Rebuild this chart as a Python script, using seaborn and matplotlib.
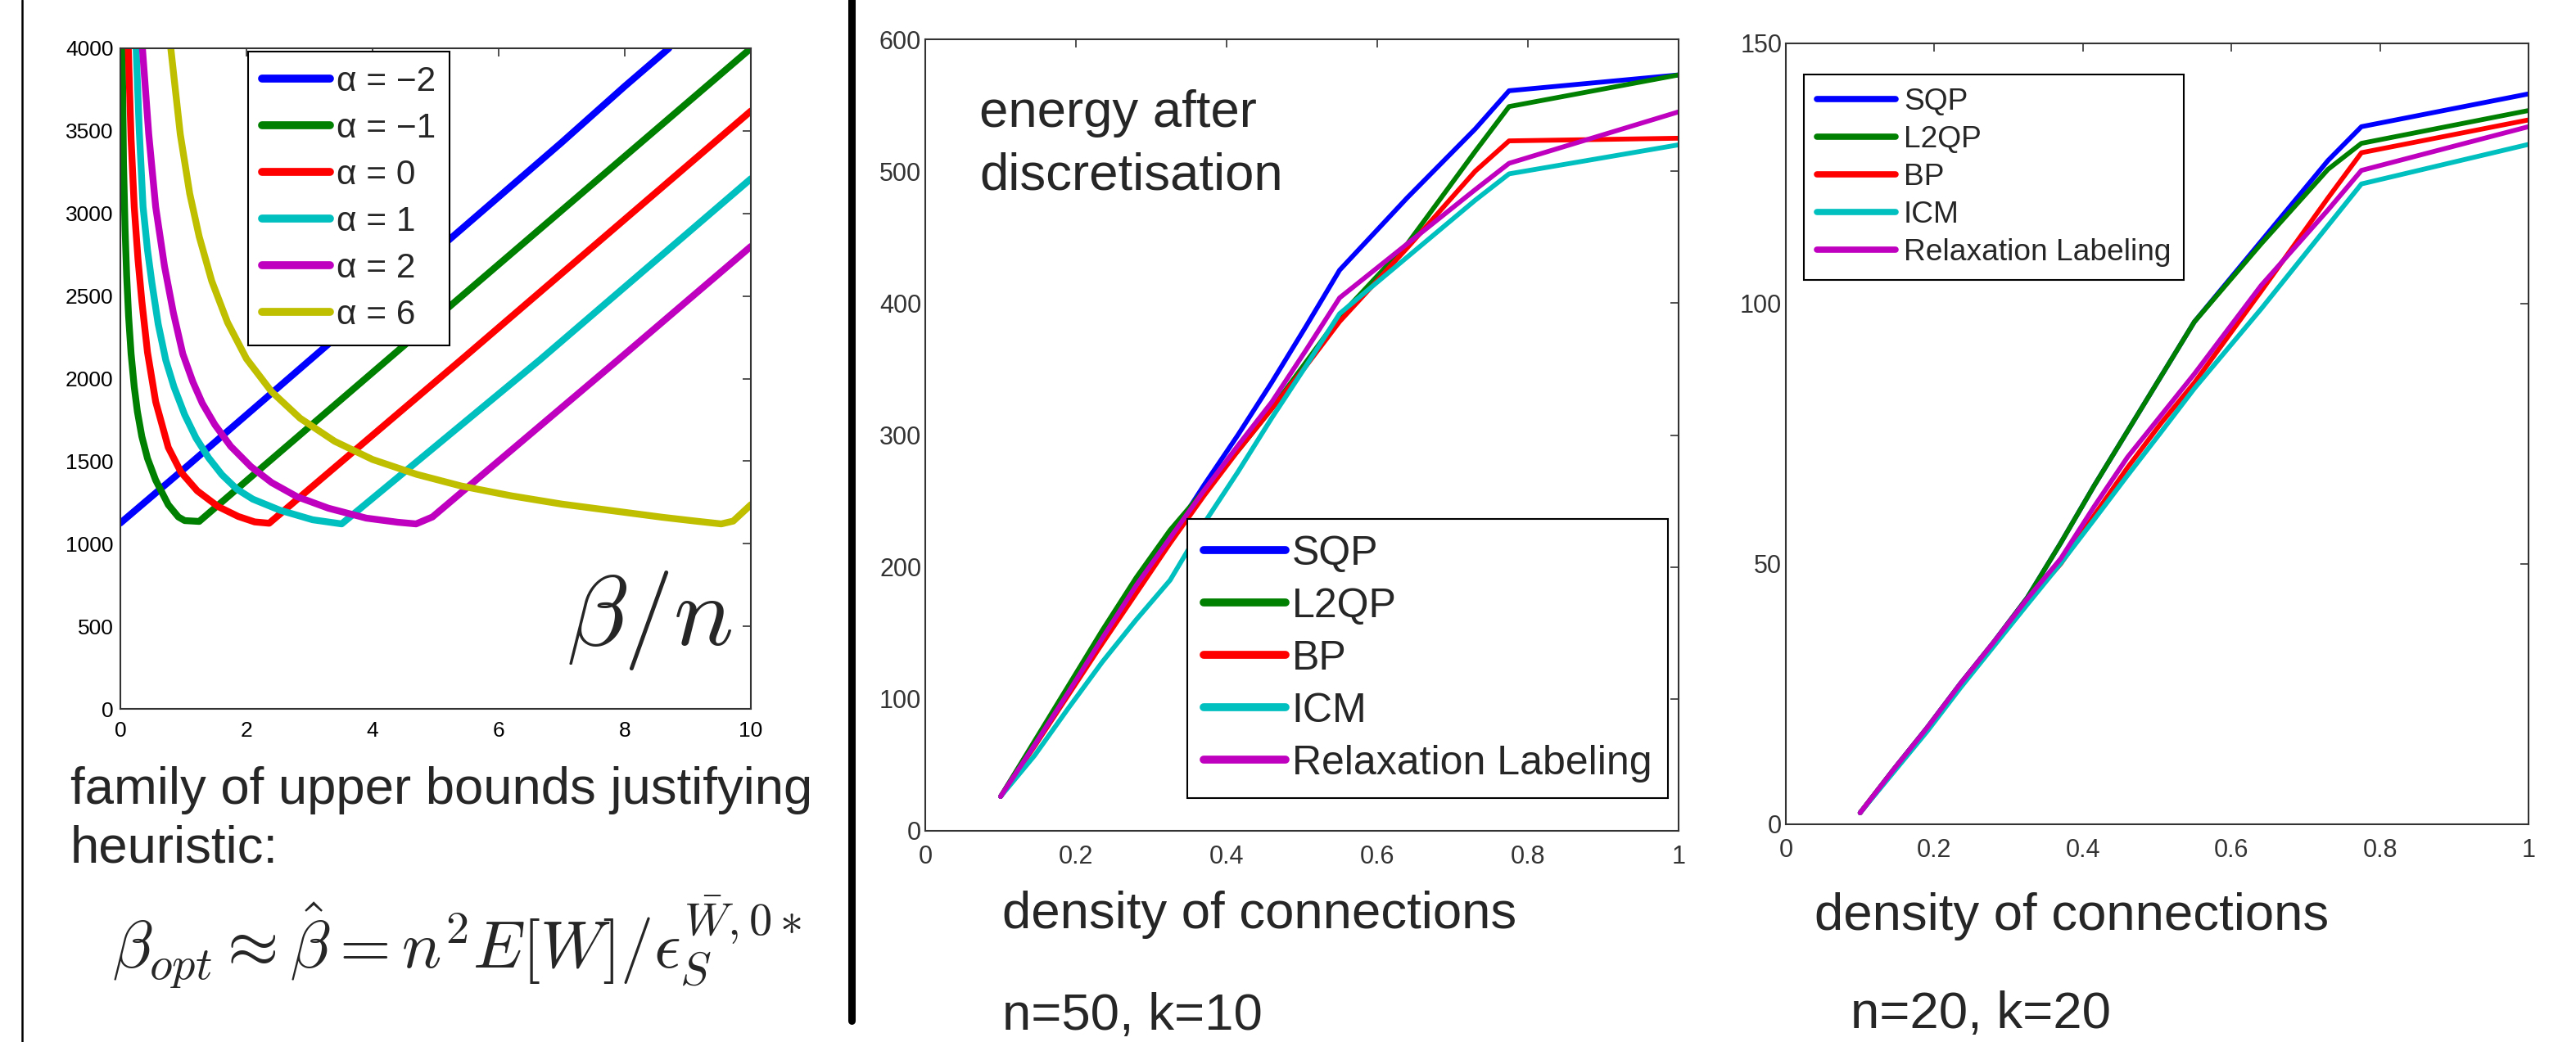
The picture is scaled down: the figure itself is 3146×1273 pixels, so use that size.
import matplotlib
matplotlib.use('Agg')
import pandas as pd
import matplotlib.pyplot as plt
from matplotlib.lines import Line2D
import seaborn as sns

W, H = 3146, 1273

# ---- panel 1: family of upper bounds (beta/n on x) ----
alpha_labels = ['α = −2', 'α = −1', 'α = 0', 'α = 1', 'α = 2', 'α = 6']
alpha_colors = ['#0000ff', '#008000', '#ff0000', '#00bfbf', '#bf00bf', '#bfbf00']

bx_m2 = [0, 1, 2, 3, 4, 5, 6, 7, 8, 8.7]
by_m2 = [1125, 1450, 1780, 2110, 2440, 2770, 3100, 3430, 3770, 4000]
bx_m1 = [0.03, 0.05, 0.075, 0.1, 0.13, 0.17, 0.22, 0.27, 0.34, 0.43, 0.56, 0.76, 0.92, 1.02, 1.25, 4.23, 10]
by_m1 = [4000, 3300, 2900, 2620, 2380, 2150, 1950, 1800, 1650, 1517, 1385, 1236, 1162, 1140, 1135, 2112, 4000]
bx_0 = [0.126, 0.17, 0.22, 0.28, 0.34, 0.43, 0.56, 0.76, 0.96, 1.22, 1.55, 1.87, 2.13, 2.36, 5.4, 10]
by_0 = [4000, 3450, 3040, 2720, 2470, 2160, 1860, 1583, 1434, 1320, 1225, 1165, 1132, 1124, 2112, 3620]
bx_1 = [0.25, 0.3, 0.36, 0.43, 0.5, 0.6, 0.72, 0.85, 1.02, 1.2, 1.4, 1.61, 1.85, 2.1, 2.53, 3.05, 3.51, 6.65, 10]
by_1 = [4000, 3500, 3040, 2780, 2580, 2330, 2112, 1950, 1781, 1640, 1520, 1418, 1330, 1270, 1203, 1145, 1120, 2112, 3210]
bx_2 = [0.35, 0.45, 0.56, 0.7, 0.84, 0.99, 1.15, 1.3, 1.5, 1.75, 2.07, 2.4, 2.8, 3.3, 3.9, 4.4, 4.69, 4.95, 7.89, 10]
by_2 = [4000, 3480, 3040, 2680, 2400, 2150, 1980, 1850, 1720, 1590, 1467, 1370, 1285, 1215, 1155, 1130, 1120, 1162, 2112, 2800]
bx_6 = [0.8, 0.95, 1.1, 1.25, 1.45, 1.7, 2.0, 2.4, 2.85, 3.4, 4.0, 4.7, 5.4, 6.2, 7.0, 7.8, 8.6, 9.1, 9.53, 9.72, 10]
by_6 = [4000, 3480, 3120, 2860, 2590, 2340, 2120, 1920, 1760, 1620, 1510, 1420, 1350, 1290, 1240, 1200, 1160, 1138, 1120, 1137, 1236]

# ---- panels 2 and 3: energy after discretisation ----
methods = ['SQP', 'L2QP', 'BP', 'ICM', 'Relaxation Labeling']
method_colors = ['#0000ff', '#008000', '#ff0000', '#00bfbf', '#bf00bf']
density = [0.1, 0.145, 0.19, 0.235, 0.28, 0.325, 0.37, 0.415, 0.46, 0.505, 0.55, 0.64, 0.73, 0.775, 1.0]

sqp_n50 = [26, 67, 108, 148, 189, 222, 262, 300, 340, 382, 425, 480, 532, 561, 573]
l2qp_n50 = [26, 68, 110, 152, 192, 228, 258, 288, 320, 355, 390, 445, 515, 549, 573]
bp_n50 = [26, 64, 103, 142, 180, 218, 254, 288, 320, 352, 386, 442, 500, 523, 525]
icm_n50 = [26, 57, 93, 128, 160, 190, 233, 272, 313, 352, 392, 435, 478, 498, 520]
rl_n50 = [26, 65, 105, 146, 186, 222, 258, 292, 325, 364, 404, 445, 486, 506, 545]

sqp_n20 = [2.2, 10.5, 18.5, 27.0, 35.0, 43.5, 54.0, 65.0, 75.5, 86.0, 96.5, 112.0, 127.5, 134.0, 140.3]
l2qp_n20 = [2.2, 10.5, 18.5, 27.0, 35.0, 43.5, 54.0, 65.0, 75.5, 86.0, 96.5, 111.5, 125.8, 130.8, 137.1]
bp_n20 = [2.2, 10.4, 18.3, 26.8, 34.8, 42.8, 50.0, 59.3, 68.5, 77.0, 84.8, 102.4, 120.3, 129.0, 135.3]
icm_n20 = [2.2, 10.0, 17.8, 26.2, 34.2, 42.2, 50.1, 58.5, 67.0, 75.3, 83.7, 99.0, 115.0, 123.0, 130.6]
rl_n20 = [2.2, 10.5, 18.5, 27.0, 35.0, 43.3, 51.0, 61.0, 70.5, 78.5, 86.5, 103.5, 118.0, 125.6, 134.0]


def long_df(xs, ys, names):
    parts = [pd.DataFrame({'x': x, 'y': y, 'series': n}) for x, y, n in zip(xs, ys, names)]
    return pd.concat(parts, ignore_index=True)


def fx(px):
    return px / W


def fy(py):
    return 1 - py / H


def style_axes(ax, size, color):
    ax.tick_params(direction='in', top=True, right=True, length=7, width=1.2,
                   labelsize=size, labelcolor=color, color='#333333')
    for s in ax.spines.values():
        s.set_visible(True)
        s.set_color('#333333')
        s.set_linewidth(1.5)
    ax.set_xlabel('')
    ax.set_ylabel('')


def add_legend(ax, labels, colors, size, lw, anchor, **kw):
    handles = [Line2D([], [], color=c, lw=lw) for c in colors]
    leg = ax.legend(handles, labels, loc='upper left', bbox_to_anchor=anchor,
                    bbox_transform=ax.figure.transFigure, borderaxespad=0,
                    fontsize=size, fancybox=False, framealpha=1, **kw)
    leg.get_frame().set_edgecolor('black')
    leg.get_frame().set_linewidth(1.5)
    return leg


sns.set_style('white')
plt.rcParams['font.family'] = ['Liberation Sans', 'DejaVu Sans']
plt.rcParams['mathtext.fontset'] = 'cm'

fig = plt.figure(figsize=(W / 100, H / 100), dpi=100)

# panel 1
ax1 = fig.add_axes([fx(147), fy(866), (917 - 147) / W, (866 - 59) / H])
df1 = long_df([bx_m2, bx_m1, bx_0, bx_1, bx_2, bx_6],
              [by_m2, by_m1, by_0, by_1, by_2, by_6], alpha_labels)
sns.lineplot(data=df1, x='x', y='y', hue='series', palette=dict(zip(alpha_labels, alpha_colors)),
             estimator=None, sort=False, legend=False, linewidth=6, ax=ax1)
ax1.set_xlim(0, 10)
ax1.set_ylim(0, 4000)
ax1.set_xticks(range(0, 11, 2))
ax1.set_yticks(range(0, 4001, 500))
style_axes(ax1, 19, 'black')
ax1.tick_params(axis='x', pad=11)
ax1.tick_params(axis='y', pad=6)
add_legend(ax1, alpha_labels, alpha_colors, 30.5, 7, (fx(303), fy(63)),
           handlelength=1.95, handletextpad=0.2, labelspacing=0.40, borderpad=0.40)
fig.text(fx(692), fy(788), r'$\beta/n$', fontsize=88, ha='left', va='baseline')

# panel 2
ax2 = fig.add_axes([fx(1130), fy(1015), (2050 - 1130) / W, (1015 - 48) / H])
df2 = long_df([density] * 5, [sqp_n50, l2qp_n50, bp_n50, icm_n50, rl_n50], methods)
sns.lineplot(data=df2, x='x', y='y', hue='series', palette=dict(zip(methods, method_colors)),
             estimator=None, sort=False, legend=False, linewidth=4.2, ax=ax2)
ax2.set_xlim(0, 1)
ax2.set_ylim(0, 600)
ax2.set_xticks([0, 0.2, 0.4, 0.6, 0.8, 1])
ax2.set_xticklabels(['0', '0.2', '0.4', '0.6', '0.8', '1'])
ax2.set_yticks(range(0, 601, 100))
style_axes(ax2, 22, '#333333')
ax2.tick_params(axis='x', pad=12)
add_legend(ax2, methods, method_colors, 36, 7, (fx(1450), fy(634)),
           handlelength=2.0, handletextpad=0.16, labelspacing=0.36, borderpad=0.39)
fig.text(fx(1196), fy(155), 'energy after', fontsize=45.7, ha='left', va='baseline')
fig.text(fx(1196), fy(232), 'discretisation', fontsize=45.7, ha='left', va='baseline')

# panel 3
ax3 = fig.add_axes([fx(2181), fy(1007), (3088 - 2181) / W, (1007 - 53) / H])
df3 = long_df([density] * 5, [sqp_n20, l2qp_n20, bp_n20, icm_n20, rl_n20], methods)
sns.lineplot(data=df3, x='x', y='y', hue='series', palette=dict(zip(methods, method_colors)),
             estimator=None, sort=False, legend=False, linewidth=4.2, ax=ax3)
ax3.set_xlim(0, 1)
ax3.set_ylim(0, 150)
ax3.set_xticks([0, 0.2, 0.4, 0.6, 0.8, 1])
ax3.set_xticklabels(['0', '0.2', '0.4', '0.6', '0.8', '1'])
ax3.set_yticks([0, 50, 100, 150])
style_axes(ax3, 22, '#333333')
ax3.tick_params(axis='x', pad=12)
add_legend(ax3, methods, method_colors, 26.7, 5.5, (fx(2203), fy(91)),
           handlelength=2.6, handletextpad=0.27, labelspacing=0.30, borderpad=0.42)

# captions
fig.text(fx(86), fy(982), 'family of upper bounds justifying', fontsize=45.7, ha='left', va='baseline')
fig.text(fx(86), fy(1053), 'heuristic:', fontsize=45.7, ha='left', va='baseline')
fig.text(fx(137), fy(1183), r'$\beta_{opt} \approx \hat{\beta} = n^2 E[W]/\epsilon_S^{\bar{W},0*}$',
         fontsize=58, ha='left', va='baseline')
fig.text(fx(1224), fy(1134), 'density of connections', fontsize=45.7, ha='left', va='baseline')
fig.text(fx(1224), fy(1258), 'n=50, k=10', fontsize=45.7, ha='left', va='baseline')
fig.text(fx(2216), fy(1136), 'density of connections', fontsize=45.7, ha='left', va='baseline')
fig.text(fx(2260), fy(1256), 'n=20, k=20', fontsize=45.7, ha='left', va='baseline')

# separator lines
fig.add_artist(Line2D([fx(27), fx(27)], [0, 1], color='black', lw=1.8, transform=fig.transFigure))
fig.add_artist(Line2D([fx(1040), fx(1040)], [fy(1247), 1], color='black', lw=6.5, transform=fig.transFigure))

fig.savefig('out.png', dpi=100)
